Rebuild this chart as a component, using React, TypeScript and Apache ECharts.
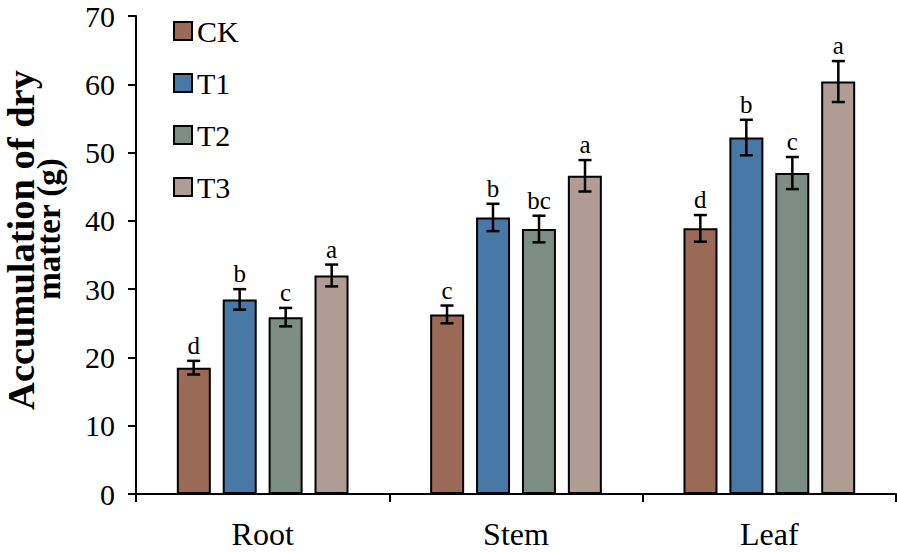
import React, { useEffect, useRef } from "react";
import * as echarts from "echarts";

const categories = ["Root", "Stem", "Leaf"];
const seriesNames = ["CK", "T1", "T2", "T3"];
const ckValues = [18.5, 26.3, 38.9];
const t1Values = [28.5, 40.5, 52.2];
const t2Values = [25.9, 38.8, 47.0];
const t3Values = [32.0, 46.6, 60.4];
const ckErrors = [1.0, 1.3, 1.95];
const t1Errors = [1.5, 2.0, 2.6];
const t2Errors = [1.35, 1.95, 2.35];
const t3Errors = [1.6, 2.3, 3.0];
const ckLetters = ["d", "c", "d"];
const t1Letters = ["b", "b", "b"];
const t2Letters = ["c", "bc", "c"];
const t3Letters = ["a", "a", "a"];
const yTicks = { min: 0, max: 70, interval: 10 };

const colors = ["#9B6A56", "#4878A5", "#7B8D84", "#AF9C94"];
const FONT = "'Liberation Serif', 'Times New Roman', serif";

export default function App() {
  const ref = useRef<HTMLDivElement>(null);
  useEffect(() => {
    if (!ref.current) return;
    const chart = echarts.init(ref.current, null, { renderer: "svg" });
    const values = [ckValues, t1Values, t2Values, t3Values];
    const errors = [ckErrors, t1Errors, t2Errors, t3Errors];
    const letters = [ckLetters, t1Letters, t2Letters, t3Letters];
    const BAR_W = 34;
    const PITCH = 46;

    const barSeries = seriesNames.map((name, i) => ({
      name,
      type: "bar",
      data: values[i],
      barWidth: BAR_W,
      barGap: "35%",
      itemStyle: { color: colors[i], borderColor: "#000", borderWidth: 2 },
      z: 2,
    }));

    const errSeries = seriesNames.map((name, i) => ({
      name: "err_" + name,
      type: "custom",
      z: 3,
      data: categories.map((_, c) => [c, values[i][c], errors[i][c]]),
      renderItem: (params: any, api: any) => {
        const cat = api.value(0);
        const v = api.value(1);
        const e = api.value(2);
        const top = api.coord([cat, v + e]);
        const bot = api.coord([cat, v - e]);
        const x = top[0] + (i - 1.5) * PITCH;
        const ls = { stroke: "#000", lineWidth: 2.5 };
        const hw = 6.5;
        return {
          type: "group",
          children: [
            { type: "line", shape: { x1: x, y1: top[1], x2: x, y2: bot[1] }, style: ls },
            { type: "line", shape: { x1: x - hw, y1: top[1], x2: x + hw, y2: top[1] }, style: ls },
            { type: "line", shape: { x1: x - hw, y1: bot[1], x2: x + hw, y2: bot[1] }, style: ls },
            {
              type: "text",
              x,
              y: top[1] - 3,
              style: {
                text: letters[i][params.dataIndex],
                textAlign: "center",
                textVerticalAlign: "bottom",
                fontSize: 25,
                fontFamily: FONT,
                fill: "#000",
              },
            },
          ],
        };
      },
    }));

    chart.setOption({
      animation: false,
      grid: { left: 136, right: 1, top: 16, bottom: 58, containLabel: false },
      legend: {
        data: seriesNames,
        orient: "vertical",
        left: 168,
        top: 11,
        itemWidth: 18,
        itemHeight: 18,
        itemGap: 22,
        icon: "rect",
        textStyle: { fontSize: 30, fontFamily: FONT, color: "#000", lineHeight: 30 },
      },
      xAxis: {
        type: "category",
        data: categories,
        axisLine: { lineStyle: { color: "#000", width: 2 } },
        axisTick: { show: true, length: 8, lineStyle: { color: "#000", width: 2 } },
        axisLabel: { fontSize: 32, fontFamily: FONT, color: "#000", margin: 24 },
      },
      yAxis: {
        type: "value",
        min: yTicks.min,
        max: yTicks.max,
        interval: yTicks.interval,
        axisLine: { show: true, lineStyle: { color: "#000", width: 2 } },
        axisTick: { show: true, length: 8, lineStyle: { color: "#000", width: 2 } },
        axisLabel: { fontSize: 30, lineHeight: 28, fontFamily: FONT, color: "#000", margin: 21 },
        splitLine: { show: false },
      },
      graphic: [
        {
          type: "text",
          x: 21,
          y: 240,
          rotation: Math.PI / 2,
          scaleX: 1.04,
          style: {
            text: "Accumulation of dry",
            textAlign: "center",
            textVerticalAlign: "middle",
            fontSize: 37,
            fontWeight: "bold",
            fontFamily: FONT,
            fill: "#000",
          },
        },
        {
          type: "text",
          x: 49,
          y: 229,
          rotation: Math.PI / 2,
          style: {
            text: "matter (g)",
            textAlign: "center",
            textVerticalAlign: "middle",
            fontSize: 33,
            fontWeight: "bold",
            fontFamily: FONT,
            fill: "#000",
          },
        },
      ],
      series: [...barSeries, ...errSeries],
    });
    return () => chart.dispose();
  }, []);
  return (
    <div
      ref={ref}
      style={{ position: "fixed", left: 0, top: 0, width: 897, height: 552, background: "#fff" }}
    />
  );
}
